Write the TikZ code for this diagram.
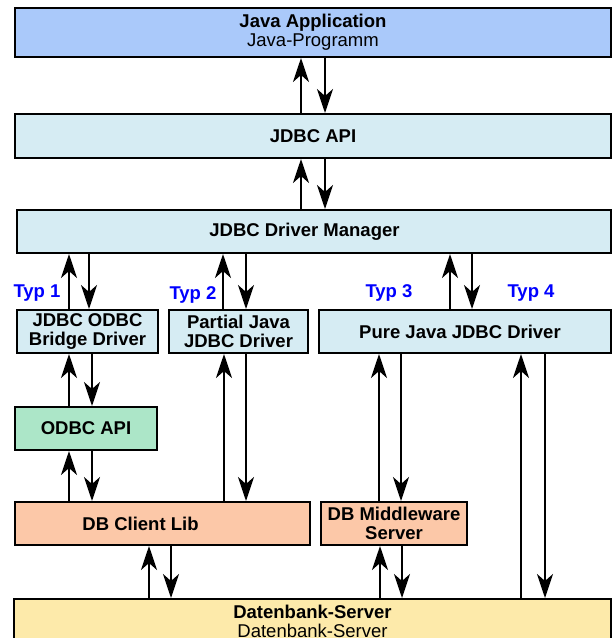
\documentclass[tikz,border=0pt]{standalone}
\usepackage{fontspec}
\setmainfont{Liberation Sans}
\usetikzlibrary{arrows.meta}

\definecolor{appblue}{RGB}{170,201,250}
\definecolor{jdbcblue}{RGB}{214,236,243}
\definecolor{odbcgreen}{RGB}{172,230,200}
\definecolor{libsalmon}{RGB}{252,200,168}
\definecolor{dbyellow}{RGB}{253,234,170}

\begin{document}
\begin{tikzpicture}[x=1pt,y=-1pt,
		box/.style={draw, line width=2pt, inner sep=0pt, align=center,
			font=\fontsize{18.5}{19}\selectfont\bfseries},
		typ/.style={text=blue, font=\fontsize{18.5}{19}\selectfont\bfseries},
		arr/.style={line width=2.2pt, -{Stealth[length=24pt,width=16pt,inset=7pt]}}]
	
	% Bildausschnitt
	\clip (0,0) rectangle (612,638);
	
	% Anwendung und JDBC-Schicht
	\node[box, fill=appblue, minimum width=596, minimum height=49] (app) at (313,32.5)
		{Java Application\\\mdseries Java-Programm};
	\node[box, fill=jdbcblue, minimum width=596, minimum height=44] (api) at (313,136) {JDBC API};
	\node[box, fill=jdbcblue, minimum width=594, minimum height=43] (dm) at (314,231.5)
		{\hspace*{-19pt}JDBC Driver Manager};
	
	% Treiber der Typen 1 bis 4
	\node[box, fill=jdbcblue, minimum width=141, minimum height=43] (bridge) at (87.5,331.5)
		{JDBC ODBC\\Bridge Driver};
	\node[box, fill=jdbcblue, minimum width=139, minimum height=43] (partial) at (238.5,331.5)
		{Partial Java\\JDBC Driver};
	\node[box, fill=jdbcblue, minimum width=292, minimum height=43] (pure) at (465,331.5)
		{\hspace*{-10pt}Pure Java JDBC Driver};
	
	% Zwischenschichten
	\node[box, fill=odbcgreen, minimum width=142, minimum height=43] (odbc) at (86,428.5) {ODBC API};
	\node[box, fill=libsalmon, minimum width=295, minimum height=43] (client) at (162.5,523.5)
		{\hspace*{-44pt}DB Client Lib};
	\node[box, fill=libsalmon, minimum width=146, minimum height=43] (mw) at (394,523.5)
		{DB Middleware\\Server};
	
	% Datenbank
	\node[box, fill=dbyellow, minimum width=597, minimum height=44] (db) at (312.5,621)
		{Datenbank-Server\\\mdseries Datenbank-Server};
	
	% Typ-Beschriftungen
	\node[typ] (typ1) at (37,293) {Typ 1};
	\node[typ] (typ2) at (193,295) {Typ 2};
	\node[typ] (typ3) at (389,293) {Typ 3};
	\node[typ] (typ4) at (531,293) {Typ 4};
	
	% Pfeilpaare: unten/oben/x hoch/x runter
	\foreach \lo/\hi/\xu/\xd in {api/app/301/325, dm/api/301/325,
			bridge/dm/69/89, partial/dm/223/246, pure/dm/450/472,
			odbc/bridge/69/92, client/odbc/69/92, client/partial/224/246,
			mw/pure/379/401, db/pure/521/545, db/client/149/171, db/mw/380/402}
	{
		\draw[arr] (\lo.north -| \xu,0) -- (\hi.south -| \xu,0);
		\draw[arr] (\hi.south -| \xd,0) -- (\lo.north -| \xd,0);
	}
	
\end{tikzpicture}
\end{document}
